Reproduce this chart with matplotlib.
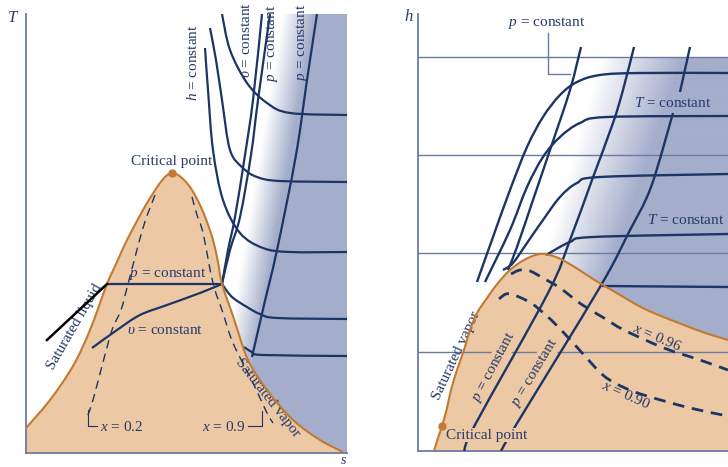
import numpy as np
import matplotlib
matplotlib.use("Agg")
import matplotlib.pyplot as plt
from matplotlib.colors import to_rgb
from matplotlib.path import Path
from matplotlib.patches import PathPatch

plt.rcParams['font.family'] = 'Liberation Serif'
plt.rcParams['mathtext.fontset'] = 'custom'
plt.rcParams['mathtext.rm'] = 'Liberation Serif'
plt.rcParams['mathtext.it'] = 'Liberation Serif:italic'

# ---------------- T-s diagram (left) ----------------
ts_dome_s = [0, 24, 47, 64, 81, 91, 101, 117, 126, 134, 140, 146, 152, 159, 166, 174, 181, 187, 192, 196,
             207, 222, 241, 267, 294, 317]
ts_dome_T = [25, 53, 87, 123, 169, 191, 213, 243, 258, 270, 277, 280, 278, 272, 263, 248, 231, 213, 191, 169,
             137, 93, 63, 33, 13, 1]
ts_crit = (146, 280)

ts_x02_s = [129, 117, 102, 95, 86, 76, 67, 62, 61]
ts_x02_T = [258, 225, 169, 143, 123, 87, 53, 38, 33]
ts_x09_s = [166, 171, 177, 187, 197, 207, 227, 241, 247]
ts_x09_T = [256, 238, 220, 170, 140, 110, 70, 40, 30]

ts_p_wet_s = [81, 196]
ts_p_wet_T = [169, 169]
ts_v_wet_s = [196, 174, 141, 114, 91, 66]
ts_v_wet_T = [169, 160, 148, 138, 123, 105]
ts_v_sup_s = [196, 202, 209, 219, 227, 236]
ts_v_sup_T = [169, 203, 236, 298, 353, 439]
ts_p1_sup_s = [196, 204, 214, 225, 232, 244]
ts_p1_sup_T = [169, 203, 236, 298, 353, 439]
ts_p2_sup_s = [226, 238, 251, 270, 281, 291]
ts_p2_sup_T = [96, 148, 203, 298, 373, 439]

ts_h_curves = [
    ([196, 204, 221, 241, 264, 321], [439, 403, 370, 350, 340, 338]),
    ([184, 190, 196, 204, 217, 231, 254, 321], [425, 393, 353, 303, 285, 276, 272, 271]),
    ([179, 182, 187, 197, 214, 237, 264, 321], [405, 363, 303, 253, 220, 205, 201, 201]),
    ([196, 206, 221, 234, 251, 321], [169, 156, 146, 139, 135, 134]),
    ([218, 226, 237, 321], [106, 101, 98, 97]),
]
ts_tangent_s = [21, 81]
ts_tangent_T = [113, 169]

# ---------------- h-s diagram (right) ----------------
hs_dome_s = [16, 20, 24, 29, 33, 39, 46, 52, 59, 69, 80, 92, 106, 122, 138, 155, 175, 197, 229, 279, 310]
hs_dome_h = [0, 13, 25, 43, 61, 81, 101, 121, 138, 153, 168, 181, 191, 197, 194, 185, 172, 159, 141, 121, 111]
hs_crit = (24, 25)

hs_x096_s = [93, 102, 112, 125, 142, 163, 186, 206, 246, 282, 310]
hs_x096_h = [177, 181, 180, 173, 163, 147, 133, 121, 103, 91, 81]
hs_x090_s = [81, 88, 96, 113, 130, 146, 166, 186, 207, 229, 272, 310]
hs_x090_h = [152, 157, 156, 148, 134, 118, 96, 75, 63, 55, 43, 35]

hs_p1_s = [163, 152, 132, 115, 99, 90]
hs_p1_h = [404, 361, 301, 251, 204, 181]
hs_p2_s = [216, 205, 195, 174, 152, 130, 58, 46]
hs_p2_h = [404, 361, 328, 271, 211, 158, 28, 0]
hs_p3_s = [272, 262, np.nan, 255, 233, 211, 182, 98, 83]
hs_p3_h = [404, 359, np.nan, 338, 264, 219, 164, 26, 0]

hs_T_curves = [
    ([310, 222, 182, 159, 142, 125, 109, 92, 75, 59], [378, 378, 376, 369, 356, 334, 304, 261, 214, 169]),
    ([310, 189, 162, 142, 125, 109, 92, 67], [335, 334, 328, 314, 294, 264, 221, 169]),
    ([310, 182, 159, 142, 125, 109, 95, 85], [277, 274, 268, 254, 231, 208, 188, 181]),
    ([310, 175, 152, 128], [217, 214, 209, 196]),
    ([310, 184], [164, 165]),
]
hs_grid_h = [394, 296, 198, 99]
hs_leader_s = [130, 130, 152]
hs_leader_h = [418, 377, 377]

# ---------------- styles ----------------
NAVY = '#1c3566'
TXT = '#25396b'
ORANGE = '#ecc9a4'
EDGE = '#c27a32'
BLUE = '#a4aecb'
SPINE = '#6a7ba2'
FS = 11


def smooth(xs, ys):
    # Catmull-Rom through the read points, drawn as cubic Bezier pieces
    xs = np.asarray(xs, float)
    ys = np.asarray(ys, float)
    verts, codes = [], []
    ok = ~np.isnan(xs)
    runs, cur = [], []
    for i in range(len(xs)):
        if ok[i]:
            cur.append((xs[i], ys[i]))
        elif cur:
            runs.append(cur)
            cur = []
    if cur:
        runs.append(cur)
    for run in runs:
        pts = np.array(run)
        n = len(pts)
        verts.append(pts[0])
        codes.append(Path.MOVETO)
        for i in range(n - 1):
            p0 = pts[max(i - 1, 0)]
            p1 = pts[i]
            p2 = pts[i + 1]
            p3 = pts[min(i + 2, n - 1)]
            verts += [p1 + (p2 - p0) / 6, p2 - (p3 - p1) / 6, p2]
            codes += [Path.CURVE4] * 3
    return verts, codes


def curve(ax, xs, ys, **kw):
    verts, codes = smooth(xs, ys)
    ax.add_patch(PathPatch(Path(verts, codes), fill=False, capstyle='butt', **kw))


def dome(ax, xs, ys):
    verts, codes = smooth(xs, ys)
    verts = verts + [(xs[-1], 0), (xs[0], 0), (xs[0], ys[0])]
    codes = codes + [Path.LINETO, Path.LINETO, Path.CLOSEPOLY]
    ax.add_patch(PathPatch(Path(verts, codes), facecolor=ORANGE, edgecolor='none', zorder=1))
    curve(ax, xs, ys, edgecolor=EDGE, lw=1.5, zorder=4)


def ramp(ax, s_max, y_max, start, end):
    s = np.arange(0, s_max + 1, 1.0)
    y = np.arange(0, y_max + 1, 1.0)
    S, Y = np.meshgrid(s, y)
    (a_top, ya_top), (a_bot, ya_bot) = start
    (b_top, yb_top), (b_bot, yb_bot) = end
    s0 = a_bot + (Y - ya_bot) * (a_top - a_bot) / (ya_top - ya_bot)
    s1 = b_bot + (Y - yb_bot) * (b_top - b_bot) / (yb_top - yb_bot)
    t = np.clip((S - s0) / (s1 - s0), 0, 1)[..., None]
    rgb = np.ones(3) * (1 - t) + np.array(to_rgb(BLUE)) * t
    ax.imshow(rgb, extent=(0, s_max, 0, y_max), origin='lower', aspect='auto',
              zorder=0, interpolation='bilinear')


def frame(ax, xmax, ymax):
    ax.set_xlim(0, xmax)
    ax.set_ylim(0, ymax)
    for side in ['top', 'right']:
        ax.spines[side].set_visible(False)
    for side in ['left', 'bottom']:
        ax.spines[side].set_color(SPINE)
        ax.spines[side].set_linewidth(1.3)
    ax.set_xticks([])
    ax.set_yticks([])
    ax.patch.set_alpha(0)


fig = plt.figure(figsize=(7.28, 4.67), dpi=100)
W, H = 728.0, 467.0

# Left: T-s
ax1 = fig.add_axes([26 / W, 14 / H, 321 / W, 439 / H])
ramp(ax1, 321, 439, ((257, 439), (207, 137)), ((289, 439), (236, 137)))
dome(ax1, ts_dome_s, ts_dome_T)
ax1.plot(*ts_crit, 'o', color=EDGE, ms=5, zorder=5)

curve(ax1, ts_x02_s, ts_x02_T, edgecolor=NAVY, lw=1.0, linestyle=(0, (6, 4)), zorder=3)
curve(ax1, ts_x09_s, ts_x09_T, edgecolor=NAVY, lw=1.0, linestyle=(0, (6, 4)), zorder=3)
ax1.plot([62, 62, 71], [43, 27, 27], color=NAVY, lw=0.8, zorder=3)
ax1.plot([222, 236, 236], [27, 27, 42], color=NAVY, lw=0.8, zorder=3)

for xs, ys in [(ts_p_wet_s, ts_p_wet_T), (ts_v_wet_s, ts_v_wet_T), (ts_v_sup_s, ts_v_sup_T),
               (ts_p1_sup_s, ts_p1_sup_T), (ts_p2_sup_s, ts_p2_sup_T)] + ts_h_curves:
    curve(ax1, xs, ys, edgecolor=NAVY, lw=1.6, zorder=3)
ax1.plot(ts_tangent_s, ts_tangent_T, color='black', lw=1.8, zorder=6)

ax1.text(146, 291, 'Critical point', fontsize=FS, color=TXT, ha='center', va='center')
ax1.text(142, 179, '$p$ = constant', fontsize=FS, color=TXT, ha='center', va='center')
ax1.text(139, 122, r'$\upsilon$ = constant', fontsize=FS, color=TXT, ha='center', va='center')
ax1.text(49, 126, 'Saturated liquid', fontsize=FS, color=TXT, ha='center', va='center',
         rotation=60, rotation_mode='anchor')
ax1.text(242, 55, 'Saturated vapor', fontsize=FS, color=TXT, ha='center', va='center',
         rotation=-52, rotation_mode='anchor')
ax1.text(74, 26, '$x$ = 0.2', fontsize=FS, color=TXT, ha='left', va='center')
ax1.text(220, 26, '$x$ = 0.9', fontsize=FS, color=TXT, ha='right', va='center')
ax1.text(167, 390, '$h$ = constant', fontsize=FS, color=TXT, ha='center', va='center', rotation=90)
ax1.text(221, 413, r'$\upsilon$ = constant', fontsize=FS, color=TXT, ha='center', va='center', rotation=90)
ax1.text(246, 410, '$p$ = constant', fontsize=FS, color=TXT, ha='center', va='center', rotation=90)
ax1.text(276, 411, '$p$ = constant', fontsize=FS, color=TXT, ha='center', va='center', rotation=90)
ax1.text(-13, 435, '$T$', fontsize=FS + 1, color=TXT, ha='center', va='center', clip_on=False)
ax1.text(317, -7, '$s$', fontsize=FS - 1, color=TXT, ha='center', va='center', clip_on=False)
frame(ax1, 321, 439)

# Right: h-s
ax2 = fig.add_axes([418 / W, 16 / H, 310 / W, 437 / H])
ramp(ax2, 310, 394, ((182, 394), (127, 198)), ((265, 394), (197, 198)))
for hv in hs_grid_h:
    ax2.axhline(hv, color=SPINE, lw=1.0, zorder=2.5)
dome(ax2, hs_dome_s, hs_dome_h)
ax2.plot(*hs_crit, 'o', color=EDGE, ms=5, zorder=5)

curve(ax2, hs_x096_s, hs_x096_h, edgecolor=NAVY, lw=2.0, linestyle=(0, (4.2, 2.8)), zorder=3)
curve(ax2, hs_x090_s, hs_x090_h, edgecolor=NAVY, lw=2.0, linestyle=(0, (4.2, 2.8)), zorder=3)
for xs, ys in [(hs_p1_s, hs_p1_h), (hs_p2_s, hs_p2_h), (hs_p3_s, hs_p3_h)] + hs_T_curves:
    curve(ax2, xs, ys, edgecolor=NAVY, lw=1.7, zorder=3)
ax2.plot(hs_leader_s, hs_leader_h, color=SPINE, lw=1.0, zorder=3)

ax2.text(129, 428, '$p$ = constant', fontsize=FS, color=TXT, ha='center', va='center')
ax2.text(255, 348, '$T$ = constant', fontsize=FS, color=TXT, ha='center', va='center')
ax2.text(268, 231, '$T$ = constant', fontsize=FS, color=TXT, ha='center', va='center')
ax2.text(38, 95, 'Saturated vapor', fontsize=FS, color=TXT, ha='center', va='center',
         rotation=65, rotation_mode='anchor')
ax2.text(76, 84, '$p$ = constant', fontsize=FS, color=TXT, ha='center', va='center',
         rotation=62, rotation_mode='anchor',
         bbox=dict(facecolor=ORANGE, edgecolor='none', pad=0.5), zorder=6)
ax2.text(117, 78, '$p$ = constant', fontsize=FS, color=TXT, ha='center', va='center',
         rotation=59, rotation_mode='anchor',
         bbox=dict(facecolor=ORANGE, edgecolor='none', pad=0.5), zorder=6)
ax2.text(239, 113, '$x$ = 0.96', fontsize=FS, color=TXT, ha='center', va='center',
         rotation=-23, rotation_mode='anchor')
ax2.text(208, 56, '$x$ = 0.90', fontsize=FS, color=TXT, ha='center', va='center',
         rotation=-24, rotation_mode='anchor')
ax2.text(69, 16, 'Critical point', fontsize=FS, color=TXT, ha='center', va='center',
         bbox=dict(facecolor=ORANGE, edgecolor='none', pad=0.5), zorder=6)
ax2.text(-9, 434, '$h$', fontsize=FS + 1, color=TXT, ha='center', va='center', clip_on=False)
frame(ax2, 310, 437)

fig.savefig('out.png', dpi=100)
